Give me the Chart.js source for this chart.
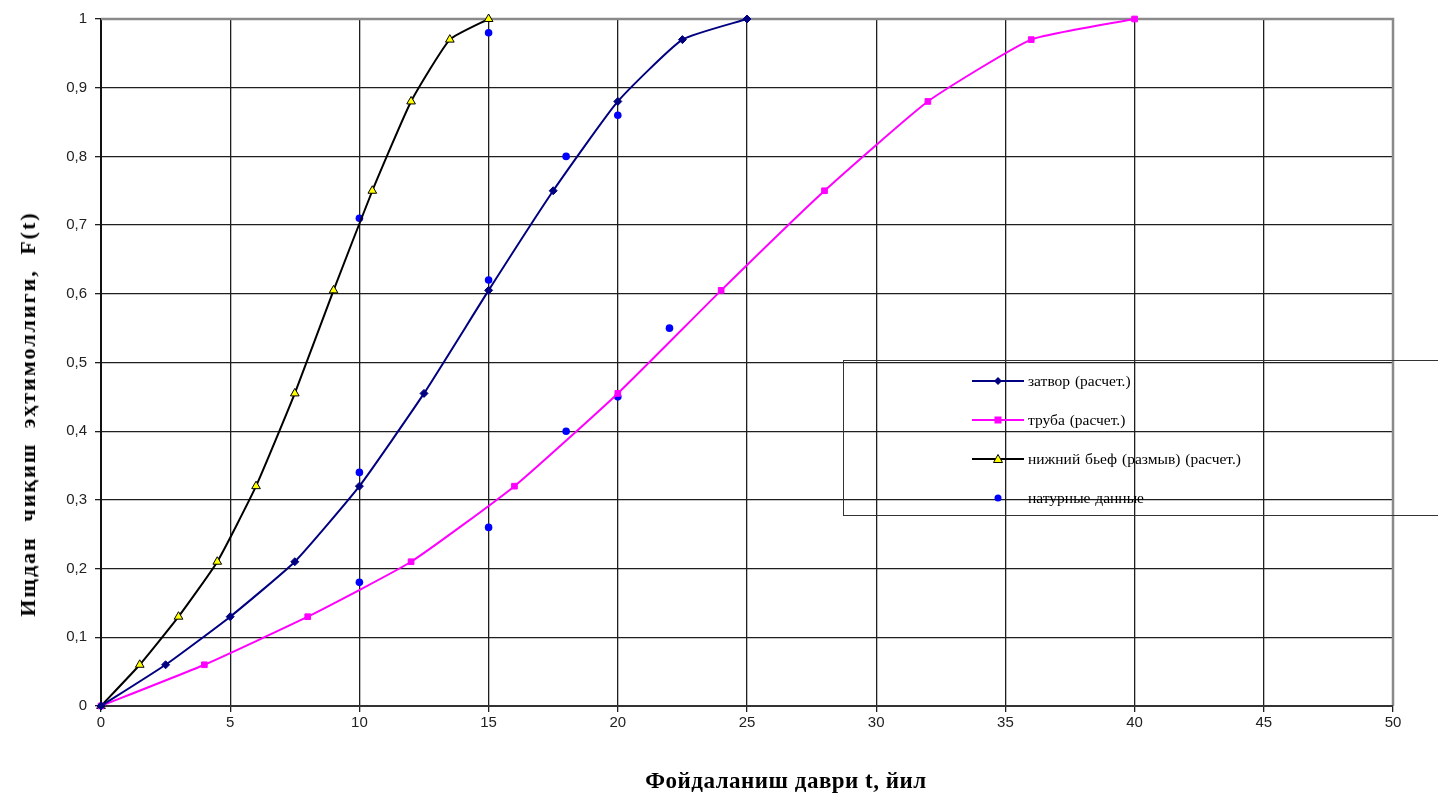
<!DOCTYPE html>
<html><head><meta charset="utf-8">
<script src="https://cdn.jsdelivr.net/npm/chart.js@4.4.1/dist/chart.umd.min.js"></script>
<style>
html,body{margin:0;padding:0;background:#fff;overflow:hidden;}
#wrap{position:relative;width:1438px;height:797px;}
#c{position:absolute;left:0;top:0;}
#ytitle{position:absolute;left:28px;top:414px;transform:translate(-50%,-50%) rotate(-90deg);white-space:pre;font:bold 22px "Liberation Serif",serif;letter-spacing:2px;word-spacing:7px;color:#000;}
#xtitle{position:absolute;left:786px;top:781px;transform:translate(-50%,-50%);white-space:pre;font:bold 23px "Liberation Serif",serif;letter-spacing:0.5px;color:#000;}
#legend{position:absolute;left:843px;top:360px;width:620px;height:156px;border:1.5px solid #333;box-sizing:border-box;}
.row{position:absolute;left:128px;height:20px;display:flex;align-items:center;font:15.5px "Liberation Serif",serif;color:#000;word-spacing:1px;}
.row svg{margin-right:4px;}
</style></head><body>
<div id="wrap">
<canvas id="c" width="1438" height="797"></canvas>
<div id="ytitle">Ищдан чиқиш эҳтимоллиги, F(t)</div>
<div id="xtitle">Фойдаланиш даври t, йил</div>
<div id="legend"></div>
</div>
<script>
// ---- data ----
const seriesNames = ["затвор (расчет.)", "труба (расчет.)", "нижний бьеф (размыв) (расчет.)", "натурные данные"];
const zatvorX = [0, 2.5, 5, 7.5, 10, 12.5, 15, 17.5, 20, 22.5, 25];
const zatvorY = [0, 0.06, 0.13, 0.21, 0.32, 0.455, 0.605, 0.75, 0.88, 0.97, 1];
const trubaX = [0, 4, 8, 12, 16, 20, 24, 28, 32, 36, 40];
const trubaY = [0, 0.06, 0.13, 0.21, 0.32, 0.455, 0.605, 0.75, 0.88, 0.97, 1];
const byefX = [0, 1.5, 3, 4.5, 6, 7.5, 9, 10.5, 12, 13.5, 15];
const byefY = [0, 0.06, 0.13, 0.21, 0.32, 0.455, 0.605, 0.75, 0.88, 0.97, 1];
const naturX = [10, 15, 18, 20, 15, 22, 10, 15, 10, 18, 20];
const naturY = [0.71, 0.98, 0.80, 0.86, 0.62, 0.55, 0.34, 0.26, 0.18, 0.40, 0.45];
const xTicks = [0, 5, 10, 15, 20, 25, 30, 35, 40, 45, 50];
const yTicks = [0, 0.1, 0.2, 0.3, 0.4, 0.5, 0.6, 0.7, 0.8, 0.9, 1];

const pts = (xs, ys) => xs.map((x, i) => ({x: x, y: ys[i]}));

const borderPlugin = {
  id: 'frame',
  beforeDatasetsDraw(chart) {
    const {ctx, chartArea: a} = chart;
    ctx.save();
    ctx.strokeStyle = '#8a8a8a';
    ctx.lineWidth = 2.5;
    ctx.beginPath();
    ctx.moveTo(a.left, a.top); ctx.lineTo(a.right, a.top); ctx.lineTo(a.right, a.bottom);
    ctx.stroke();
    ctx.strokeStyle = '#333';
    ctx.lineWidth = 2;
    ctx.beginPath();
    ctx.moveTo(a.left, a.bottom); ctx.lineTo(a.right, a.bottom);
    ctx.stroke();
    ctx.restore();
  }
};

new Chart(document.getElementById('c'), {
  type: 'line',
  data: {
    datasets: [
      {label: seriesNames[0], data: pts(zatvorX, zatvorY), borderColor: '#000080', backgroundColor: '#000080',
       borderWidth: 2, pointStyle: 'rectRot', pointRadius: 4, pointBorderWidth: 1, tension: 0.15, clip: false},
      {label: seriesNames[1], data: pts(trubaX, trubaY), borderColor: '#ff00ff', backgroundColor: '#ff00ff',
       borderWidth: 2, pointStyle: 'rect', pointRadius: 4, pointBorderWidth: 1, tension: 0.15, clip: false},
      {label: seriesNames[2], data: pts(byefX, byefY), borderColor: '#000000', backgroundColor: '#ffff00',
       pointBorderColor: '#000000', borderWidth: 2, pointStyle: 'triangle', pointRadius: 5, pointBorderWidth: 1, tension: 0.15, clip: false},
      {label: seriesNames[3], data: pts(naturX, naturY), borderColor: '#0000ff', backgroundColor: '#0000ff',
       showLine: false, pointStyle: 'circle', pointRadius: 3.8, pointBorderWidth: 0, clip: false}
    ]
  },
  options: {
    responsive: false,
    animation: false,
    layout: {padding: {left: 0, right: 45, top: 19, bottom: 0}},
    plugins: {legend: {display: false}, tooltip: {enabled: false}},
    scales: {
      x: {
        type: 'linear', min: 0, max: 50,
        afterFit(s) { s.height = 91; },
        afterBuildTicks(s) { s.ticks = xTicks.map(v => ({value: v})); },
        grid: {color: '#1e1e1e', lineWidth: 1.3, tickLength: 6, drawTicks: true},
        border: {display: true, color: '#333', width: 2},
        ticks: {color: '#222', font: {family: '"Liberation Sans", Arial, sans-serif', size: 15}, padding: 2, maxRotation: 0}
      },
      y: {
        type: 'linear', min: 0, max: 1,
        afterFit(s) { s.width = 101; },
        afterBuildTicks(s) { s.ticks = yTicks.map(v => ({value: v})); },
        grid: {color: '#1e1e1e', lineWidth: 1.3, tickLength: 6},
        border: {display: true, color: '#111', width: 2},
        ticks: {color: '#222', font: {family: '"Liberation Sans", Arial, sans-serif', size: 15}, padding: 8,
          callback: v => String(Math.round(v * 10) / 10).replace('.', ',')}
      }
    }
  },
  plugins: [borderPlugin]
});

// ---- HTML legend ----
const leg = document.getElementById('legend');
const sampleSvgs = [
  '<svg width="52" height="12"><line x1="0" y1="6" x2="52" y2="6" stroke="#000080" stroke-width="2"/><polygon points="26,2 30,6 26,10 22,6" fill="#000080"/></svg>',
  '<svg width="52" height="12"><line x1="0" y1="6" x2="52" y2="6" stroke="#ff00ff" stroke-width="2"/><rect x="22.5" y="2.5" width="7" height="7" fill="#ff00ff"/></svg>',
  '<svg width="52" height="12"><line x1="0" y1="6" x2="52" y2="6" stroke="#000" stroke-width="2"/><polygon points="26,1.5 30.5,9.5 21.5,9.5" fill="#ffff00" stroke="#000" stroke-width="1"/></svg>',
  '<svg width="52" height="12"><circle cx="26" cy="6" r="3.5" fill="#0000ff"/></svg>'
];
const rowTops = [10, 49, 88, 127];
seriesNames.forEach((n, i) => {
  const r = document.createElement('div');
  r.className = 'row';
  r.style.top = rowTops[i] + 'px';
  r.innerHTML = sampleSvgs[i] + '<span>' + n + '</span>';
  leg.appendChild(r);
});
</script>
</body></html>
